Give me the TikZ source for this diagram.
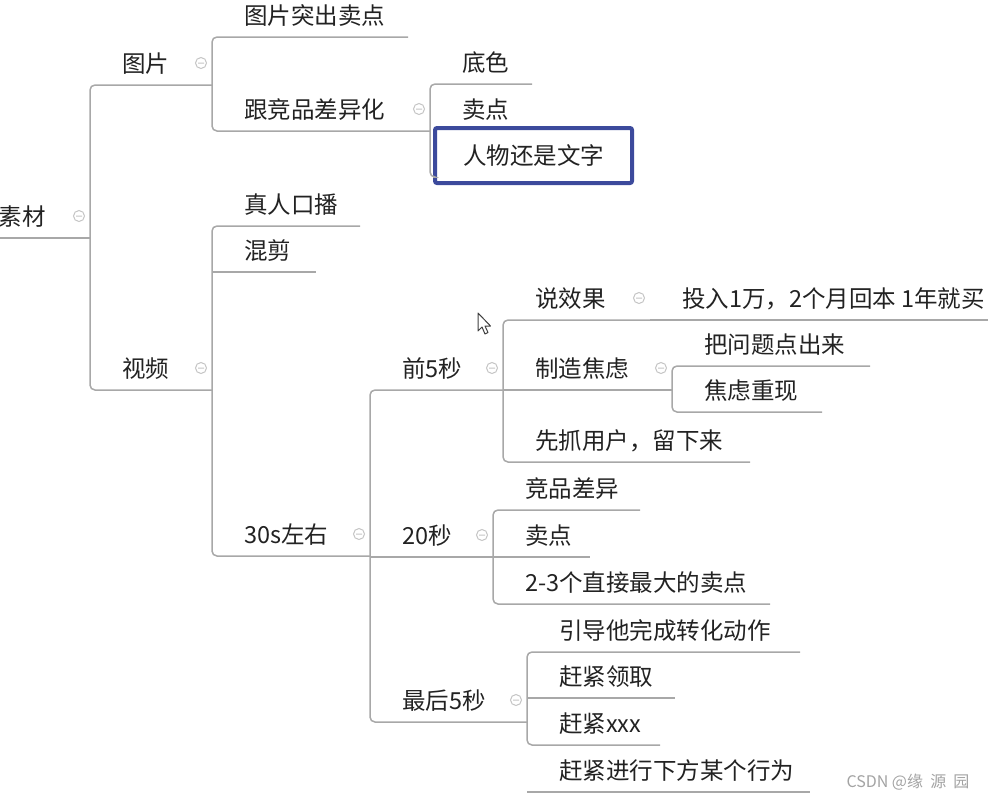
\documentclass[tikz,border=0pt]{standalone}
\usepackage{fontspec}
\newfontfamily\cjk{Noto Sans CJK SC}
\usetikzlibrary{calc}
\definecolor{linegray}{HTML}{A8A8A8}
\definecolor{txtgray}{HTML}{222222}
\definecolor{boxblue}{HTML}{3C4A9C}
\definecolor{foldgray}{HTML}{C4C4C4}
\definecolor{wmgray}{HTML}{A3A3A3}

\begin{document}
\begin{tikzpicture}[x=1pt, y=-1pt,
    item/.style={anchor=south west, inner xsep=0pt, inner ysep=13pt, outer sep=0pt,
      text depth=0pt, text=txtgray, font=\cjk\fontsize{23.5}{28}\selectfont},
    pickbox/.style={draw=boxblue, line width=4pt, rounded corners=2pt, fill=white,
      minimum width=197pt, minimum height=55pt, inner sep=0pt, outer sep=0pt,
      text=txtgray, font=\cjk\fontsize{23.5}{28}\selectfont},
    branch/.style={draw=linegray, line width=1.5pt},
    fold/.style={draw=foldgray, line width=1pt},
    wmark/.style={text=wmgray, inner sep=0pt, font=\cjk\fontsize{16}{18}\selectfont}]
\useasboundingbox (0,0) rectangle (988,801);

% Nodi: nome / bordo sinistro / sottolineatura / bordo destro / testo
\foreach \n/\l/\y/\r/\t in {
    root/-33/238/90/素材,
    pic/90/85/212/图片,
    video/90/390/212/视频,
    picSell/212/37/408/图片突出卖点,
    picDiff/212/131/430/跟竞品差异化,
    base/430/84/532/底色,
    sell/430/131/520/卖点,
    realPerson/212/226/360/真人口播,
    mix/212/272/316/混剪,
    thirty/212/556/370/30s左右,
    first5/370/390/503/前5秒,
    twenty/370/557/493/20秒,
    last5/370/722/527/最后5秒,
    effect/503/320/650/说效果,
    invest/650/320/988/投入1万，2个月回本 1年就买,
    anxiety/503/390/672/制造焦虑,
    retain/503/462/750/先抓用户，留下来,
    point/672/366/870/把问题点出来,
    replay/672/412/822/焦虑重现,
    compDiff/493/510/640/竞品差异,
    sell2/493/557/590/卖点,
    top3/493/604/770/2-3个直接最大的卖点,
    guide/527/652/800/引导他完成转化动作,
    grab/527/698/675/赶紧领取,
    hurry/527/745/660/赶紧xxx,
    act/527/792/810/赶紧进行下方某个行为}{
  \pgfmathsetmacro\w{\r-\l}
  \node[item] (\n) at (\l,\y) {\makebox[\w pt][l]{\hspace{32pt}\t}};
}

% Nodo selezionato
\node[pickbox] (person) at (533.5,155.5) {人物还是文字};

% Parentesi: dal primo all'ultimo figlio
\foreach \a/\b in {pic/video, picSell/picDiff, realPerson/thirty, first5/last5,
    effect/retain, point/replay, compDiff/top3, guide/hurry}{
  \draw[branch, rounded corners=5pt] (\a.south east) -- (\a.south west)
    -- (\b.south west) -- (\b.south east);
}
\draw[branch, rounded corners=5pt] (base.south east) -- (base.south west)
  |- ([xshift=-2pt, yshift=6pt]person.south west);

% Sottolineature semplici
\foreach \n in {root, mix, twenty, anxiety, invest, sell2, grab, act}{
  \draw[branch] (\n.south west) -- (\n.south east);
}

% Cerchietti di chiusura
\foreach \n in {root, pic, picDiff, video, thirty, first5, effect, anxiety, twenty, last5}{
  \draw[fold] ([shift={(-11,-22)}]\n.south east) circle (5.5pt)
    ++(-3pt,0pt) -- ++(6pt,0pt);
}

% Puntatore del mouse
\draw[fill=white, draw=black!75, line width=1pt, line join=round]
  (478,313) -- ++(0,18) -- ++(4,-4) -- ++(3,7) -- ++(3,-1.5)
  -- ++(-3,-6.5) -- ++(5.5,0) -- cycle;

% Filigrana
\node[wmark] (wm) at (908,782) {CSDN @缘\ \ 源\ \ 园};

\end{tikzpicture}
\end{document}
